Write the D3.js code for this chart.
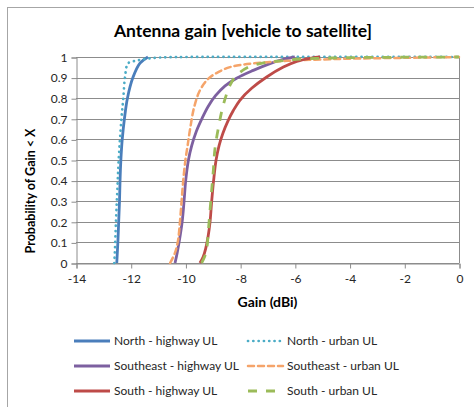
<!DOCTYPE html>
<html>
<head>
<meta charset="utf-8">
<script src="https://cdn.jsdelivr.net/npm/d3@7"></script>
<style>
  html, body { margin: 0; padding: 0; background: #fff; }
  svg { display: block; font-family: Lato, "Open Sans", "Liberation Sans", sans-serif; }
</style>
</head>
<body>
<svg id="chart" width="474" height="407"></svg>
<script>
// Cumulative distribution of antenna gain, [gain dBi, probability] pairs per series
const northHighway = [[-12.51,0],[-12.47,0.1],[-12.44,0.2],[-12.41,0.3],[-12.39,0.4],[-12.36,0.5],[-12.31,0.6],[-12.23,0.7],[-12.12,0.8],[-11.92,0.9],[-11.66,0.97],[-11.37,1.0]];
const northUrban = [[-12.6,0],[-12.58,0.05],[-12.54,0.2],[-12.49,0.35],[-12.44,0.5],[-12.34,0.7],[-12.27,0.8],[-12.21,0.9],[-12.09,0.97],[-11.78,0.982],[-11.48,0.99],[-11.0,0.997],[-10.0,1.0],[0,1.0]];
const southeastHighway = [[-10.38,0],[-10.3,0.05],[-10.22,0.11],[-10.12,0.2],[-10.05,0.3],[-9.99,0.4],[-9.89,0.5],[-9.77,0.57],[-9.6,0.64],[-9.4,0.7],[-9.17,0.76],[-8.9,0.812],[-8.55,0.86],[-8.13,0.897],[-7.52,0.935],[-6.91,0.968],[-6.42,0.989],[-6.0,1.0]];
const southeastUrban = [[-10.56,0],[-10.38,0.05],[-10.27,0.11],[-10.2,0.2],[-10.14,0.3],[-10.08,0.4],[-10.0,0.5],[-9.92,0.57],[-9.83,0.65],[-9.68,0.757],[-9.47,0.838],[-9.16,0.895],[-8.8,0.927],[-8.37,0.951],[-7.89,0.963],[-7.27,0.972],[-6.54,0.979],[-5.93,0.984],[-5.0,0.988],[-4.0,0.992],[-2.0,0.996],[0,1.0]];
const southHighway = [[-9.47,0],[-9.35,0.03],[-9.26,0.07],[-9.17,0.13],[-9.1,0.2],[-9.04,0.3],[-8.97,0.4],[-8.88,0.5],[-8.77,0.57],[-8.63,0.63],[-8.46,0.685],[-8.25,0.74],[-8.01,0.79],[-7.58,0.848],[-7.03,0.903],[-6.42,0.951],[-5.93,0.979],[-5.4,0.995],[-5.08,1.0]];
const southUrban = [[-9.41,0],[-9.3,0.03],[-9.22,0.07],[-9.16,0.16],[-9.1,0.257],[-9.04,0.354],[-8.98,0.45],[-8.92,0.555],[-8.8,0.652],[-8.62,0.765],[-8.37,0.863],[-8.13,0.911],[-7.7,0.951],[-7.15,0.971],[-6.54,0.981],[-5.93,0.989],[-5.0,0.994],[-4.0,0.997],[-2.0,0.999],[0,1.0]];

const xTicks = [-14, -12, -10, -8, -6, -4, -2, 0];
const yTicks = [0, 0.1, 0.2, 0.3, 0.4, 0.5, 0.6, 0.7, 0.8, 0.9, 1];

const seriesNames = ["North - highway UL", "North - urban UL", "Southeast - highway UL", "Southeast - urban UL", "South - highway UL", "South - urban UL"];
const seriesData = [northHighway, northUrban, southeastHighway, southeastUrban, southHighway, southUrban];

// Line styling per series
const styles = [
  { color: "#4A7EBB", width: 2.8, dash: null, cap: "butt" },
  { color: "#4BACC6", width: 2.7, dash: "0.1 5.2", cap: "round" },
  { color: "#7D60A0", width: 2.8, dash: null, cap: "butt" },
  { color: "#F5A46A", width: 2.5, dash: "6 4", cap: "round" },
  { color: "#BE4B48", width: 2.8, dash: null, cap: "butt" },
  { color: "#9BBB59", width: 2.8, dash: "9 9", cap: "butt" }
];

const svg = d3.select("#chart");
const plot = { left: 76, right: 459, top: 57, bottom: 263 };

const x = d3.scaleLinear().domain([-14, 0]).range([plot.left, plot.right]);
const y = d3.scaleLinear().domain([0, 1]).range([plot.bottom, plot.top]);

// Chart area border
svg.append("rect")
  .attr("x", 7.5).attr("y", 7.5).attr("width", 480).attr("height", 420)
  .attr("fill", "none").attr("stroke", "#a6a6a6").attr("stroke-width", 1);

// Title
svg.append("text")
  .attr("x", 243).attr("y", 37)
  .attr("text-anchor", "middle")
  .attr("font-size", 17.5).attr("font-weight", "bold").attr("fill", "#000")
  .text("Antenna gain [vehicle to satellite]");

// Horizontal gridlines
svg.append("g").selectAll("line").data(yTicks).join("line")
  .attr("x1", plot.left).attr("x2", plot.right)
  .attr("y1", d => Math.round(y(d)) + 0.5).attr("y2", d => Math.round(y(d)) + 0.5)
  .attr("stroke", "#8c8c8c").attr("stroke-width", 1);

// Right edge of plot area
svg.append("line")
  .attr("x1", plot.right + 0.5).attr("x2", plot.right + 0.5)
  .attr("y1", plot.top).attr("y2", plot.bottom)
  .attr("stroke", "#8c8c8c");

// Axes
const yAxis = d3.axisLeft(y).tickValues(yTicks).tickSize(5).tickPadding(4)
  .tickFormat(d => d3.format("")(+d.toFixed(1)));
const xAxis = d3.axisBottom(x).tickValues(xTicks).tickSize(5).tickPadding(6)
  .tickFormat(d => d);

const gy = svg.append("g").attr("transform", `translate(${plot.left + 0.5},0.5)`).call(yAxis);
const gx = svg.append("g").attr("transform", `translate(0.5,${plot.bottom + 0.5})`).call(xAxis);

[gx, gy].forEach(g => {
  g.select(".domain").attr("stroke", "#8c8c8c");
  g.selectAll(".tick line").attr("stroke", "#8c8c8c");
  g.selectAll(".tick text").attr("fill", "#262626").attr("font-size", 12)
    .attr("font-family", "Lato, 'Open Sans', sans-serif");
});

// Series lines
const line = d3.line().x(d => x(d[0])).y(d => y(d[1])).curve(d3.curveCatmullRom.alpha(0.5));
const gLines = svg.append("g");
seriesData.forEach((data, i) => {
  const s = styles[i];
  gLines.append("path")
    .attr("d", line(data))
    .attr("fill", "none")
    .attr("stroke", s.color)
    .attr("stroke-width", s.width)
    .attr("stroke-dasharray", s.dash)
    .attr("stroke-linecap", s.cap)
    .attr("stroke-linejoin", "round");
});

// Axis titles
svg.append("text")
  .attr("x", (plot.left + plot.right) / 2).attr("y", 307)
  .attr("text-anchor", "middle")
  .attr("font-size", 14).attr("font-weight", "bold").attr("fill", "#000")
  .text("Gain (dBi)");

svg.append("text")
  .attr("transform", "translate(35,191) rotate(-90)")
  .attr("text-anchor", "middle")
  .attr("font-size", 12.5).attr("font-weight", "bold").attr("fill", "#000")
  .text("Probability of Gain < X");

// Legend: two columns, three rows
const legend = svg.append("g");
seriesNames.forEach((name, i) => {
  const col = i % 2, row = Math.floor(i / 2);
  const lx = col === 0 ? 74 : 247;
  const ly = 341 + row * 25;
  const s = styles[i];
  legend.append("line")
    .attr("x1", lx + (s.dash ? 1 : 0)).attr("x2", lx + 36)
    .attr("y1", ly).attr("y2", ly)
    .attr("stroke", s.color).attr("stroke-width", s.width)
    .attr("stroke-dasharray", s.dash)
    .attr("stroke-linecap", s.cap);
  legend.append("text")
    .attr("x", lx + 40).attr("y", ly + 4)
    .attr("font-size", 12).attr("font-weight", 400).attr("fill", "#262626")
    .text(name);
});
</script>
</body>
</html>
